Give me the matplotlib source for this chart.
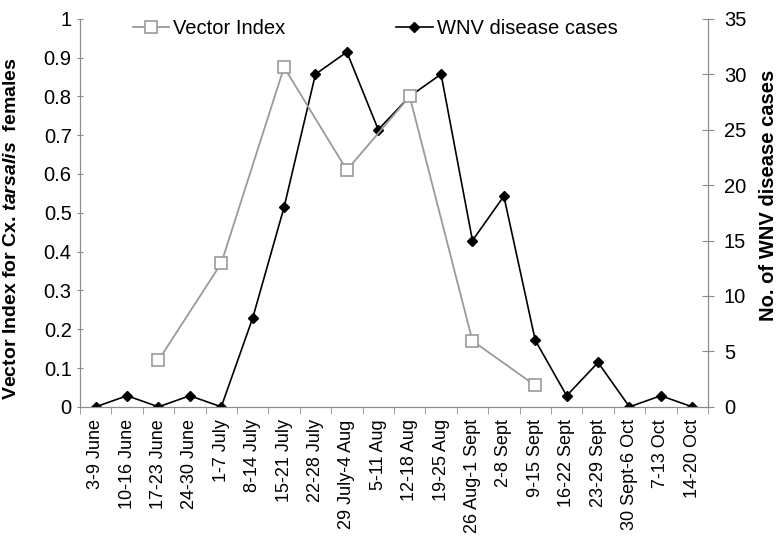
import numpy as np
import matplotlib.pyplot as plt

plt.rcParams['font.family'] = ['Liberation Sans', 'DejaVu Sans']
plt.rcParams['mathtext.fontset'] = 'custom'
plt.rcParams['mathtext.it'] = 'Liberation Sans:bold:italic'
plt.rcParams['mathtext.rm'] = 'Liberation Sans:bold'

weeks = ['3-9 June', '10-16 June', '17-23 June', '24-30 June', '1-7 July',
         '8-14 July', '15-21 July', '22-28 July', '29 July-4 Aug', '5-11 Aug',
         '12-18 Aug', '19-25 Aug', '26 Aug-1 Sept', '2-8 Sept', '9-15 Sept',
         '16-22 Sept', '23-29 Sept', '30 Sept-6 Oct', '7-13 Oct', '14-20 Oct']
wnv_cases = [0, 1, 0, 1, 0, 8, 18, 30, 32, 25, 28, 30, 15, 19, 6, 1, 4, 0, 1, 0]
vi_weeks = ['17-23 June', '1-7 July', '15-21 July', '29 July-4 Aug',
            '12-18 Aug', '26 Aug-1 Sept', '9-15 Sept']
vector_index = [0.12, 0.37, 0.875, 0.61, 0.80, 0.17, 0.055]

x = np.arange(len(weeks))
vi_x = [weeks.index(w) for w in vi_weeks]

fig, ax = plt.subplots(figsize=(7.84, 5.52), dpi=100)
fig.subplots_adjust(left=0.102, right=0.903, top=0.966, bottom=0.263)
ax2 = ax.twinx()

spine_col = '#8c8c8c'
l1, = ax.plot(vi_x, vector_index, color='#9a9a9a', lw=1.3, marker='s',
              ms=9, mfc='white', mec='#9a9a9a', mew=1.2, label='Vector Index')
l2, = ax2.plot(x, wnv_cases, color='black', lw=1.2, marker='D', ms=5.5,
               label='WNV disease cases')
ax.set_zorder(ax2.get_zorder() + 1)
ax.patch.set_visible(False)

ax.set_xlim(-0.5, len(weeks) - 0.5)
ax.set_ylim(0, 1)
ax2.set_ylim(0, 35)
ax.set_yticks(np.arange(0, 1.01, 0.1))
ax.set_yticklabels(['0'] + ['%.1f' % v for v in np.arange(0.1, 0.95, 0.1)] + ['1'])
ax2.set_yticks(range(0, 36, 5))

ax.set_xticks(x)
ax.set_xticklabels(weeks, rotation=90, fontsize=13)
ax.set_xticks(np.arange(-0.5, len(weeks), 1), minor=True)
ax.tick_params(axis='x', which='major', length=0, pad=9)
ax.tick_params(axis='x', which='minor', length=5, color=spine_col)
ax.tick_params(axis='y', labelsize=14.5, length=5, color=spine_col, direction='inout')
ax2.tick_params(axis='y', labelsize=14.5, length=9, color=spine_col, direction='inout', pad=7)

for a in (ax, ax2):
    a.spines['top'].set_visible(False)
    for s in ('left', 'right', 'bottom'):
        a.spines[s].set_color(spine_col)

ax.set_ylabel(r'Vector Index for Cx. $tarsalis$  females', fontsize=14,
              fontweight='bold')
ax.yaxis.set_label_coords(-0.096, 0.46)
ax2.set_ylabel('No. of WNV disease cases', fontsize=14.5, fontweight='bold',
               rotation=90)
ax2.yaxis.set_label_coords(1.082, 0.546)

ax.legend([l1, l2], [l1.get_label(), l2.get_label()], ncol=2, frameon=False,
          loc='upper center', bbox_to_anchor=(0.47, 1.045), fontsize=14.5,
          columnspacing=5.5, handlelength=1.8, handletextpad=0.2)

fig.savefig('out.png', dpi=100)
